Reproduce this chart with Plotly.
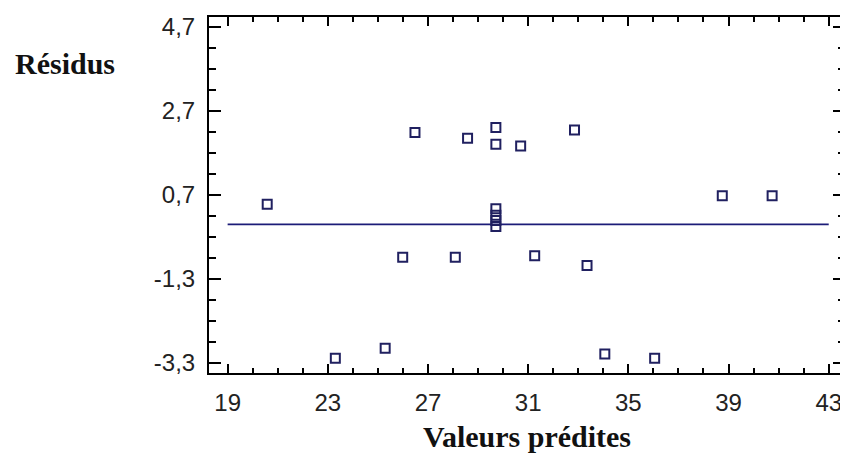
import plotly.graph_objects as go

# Predicted values (x) and residuals (y)
predicted = [20.58, 26.48, 28.58, 29.71, 29.71, 30.70, 32.85,
             29.71, 29.71, 29.71, 29.71,
             38.75, 40.74,
             25.99, 28.09, 31.26, 33.35,
             23.30, 25.29, 34.06, 36.05]
residuals = [0.48, 2.19, 2.05, 2.31, 1.91, 1.87, 2.25,
             0.37, 0.22, 0.09, -0.05,
             0.68, 0.68,
             -0.78, -0.78, -0.75, -0.98,
             -3.19, -2.95, -3.09, -3.19]

# Zero reference line
zero_x = [19, 43]
zero_y = [0, 0]

x_tickvals = [19, 23, 27, 31, 35, 39, 43]
x_ticktext = ["19", "23", "27", "31", "35", "39", "43"]
y_tickvals = [-3.3, -1.3, 0.7, 2.7, 4.7]
y_ticktext = ["-3,3", "-1,3", "0,7", "2,7", "4,7"]

fig = go.Figure()
fig.add_trace(go.Scatter(x=zero_x, y=zero_y, mode="lines",
                         line=dict(color="#1c1c78", width=1.6),
                         hoverinfo="skip", showlegend=False))
fig.add_trace(go.Scatter(x=predicted, y=residuals, mode="markers",
                         marker=dict(symbol="square-open", size=9,
                                     color="#202060",
                                     line=dict(width=2, color="#202060")),
                         showlegend=False))

tick_font = dict(family="Liberation Sans, Arial, sans-serif", size=24, color="#222222")
title_font = dict(family="Liberation Serif, Times New Roman, serif", size=30, color="#111111")

fig.update_layout(
    width=840, height=447,
    margin=dict(l=201, r=1, t=9, b=82),
    paper_bgcolor="white", plot_bgcolor="white",
    xaxis=dict(range=[18.256, 43.65], tickmode="array", tickvals=x_tickvals,
               ticktext=x_ticktext, ticks="inside", ticklen=9, tickwidth=2,
               tickcolor="black", showline=True, linecolor="black", linewidth=2,
               mirror="ticks", showgrid=False, zeroline=False,
               tickfont=tick_font, ticklabelstandoff=7,
               minor=dict(tickmode="linear", tick0=19, dtick=1, ticks="inside",
                          ticklen=5, tickwidth=1.5, tickcolor="black", showgrid=False),
               title=dict(text="<b>Valeurs prédites</b>", font=title_font, standoff=11)),
    yaxis=dict(range=[-3.54, 4.94], tickmode="array", tickvals=y_tickvals,
               ticktext=y_ticktext, ticks="inside", ticklen=12, tickwidth=2,
               tickcolor="black", showline=True, linecolor="black", linewidth=2,
               mirror="ticks", showgrid=False, zeroline=False,
               tickfont=tick_font, ticklabelstandoff=7,
               minor=dict(tickmode="linear", tick0=-3.3, dtick=0.5, ticks="inside",
                          ticklen=7, tickwidth=1.5, tickcolor="black", showgrid=False)),
    annotations=[dict(text="<b>Résidus</b>", xref="paper", yref="paper",
                      x=-0.144, y=0.868, xanchor="right", yanchor="middle",
                      showarrow=False, font=title_font)],
)

fig.write_html("out.html")
